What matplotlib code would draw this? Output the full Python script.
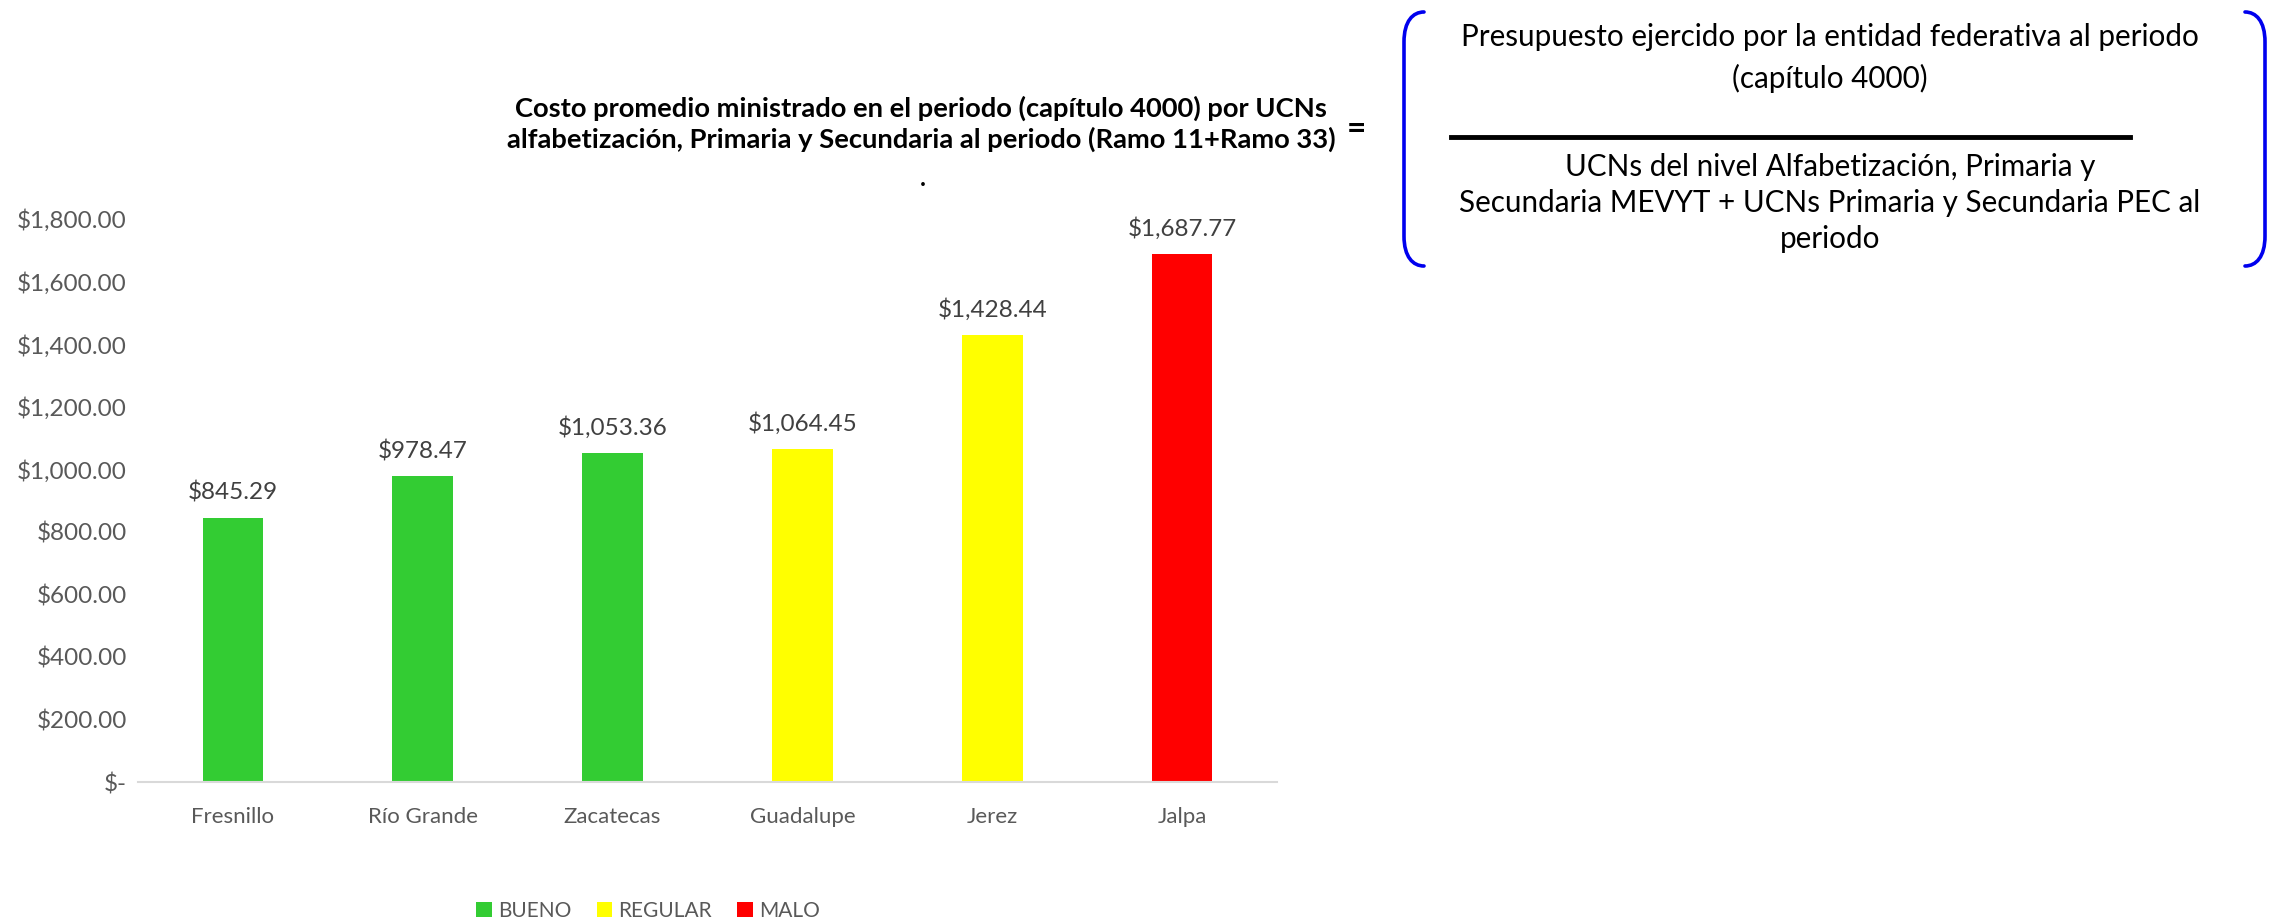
import matplotlib
matplotlib.use("Agg")
import matplotlib.pyplot as plt
from matplotlib.path import Path
from matplotlib.patches import PathPatch, Patch
from matplotlib.ticker import FuncFormatter

categories = ["Fresnillo", "Río Grande", "Zacatecas", "Guadalupe", "Jerez", "Jalpa"]
values = [845.29, 978.47, 1053.36, 1064.45, 1428.44, 1687.77]
ratings = ["BUENO", "BUENO", "BUENO", "REGULAR", "REGULAR", "MALO"]
rating_colors = {"BUENO": "#33CC33", "REGULAR": "#FFFF00", "MALO": "#FF0000"}
yticks = [0, 200, 400, 600, 800, 1000, 1200, 1400, 1600, 1800]

title_text = ("Costo promedio ministrado en el periodo (capítulo 4000) por UCNs\n"
              "alfabetización, Primaria y Secundaria al periodo (Ramo 11+Ramo 33)")
numerator = "Presupuesto ejercido por la entidad federativa al periodo\n(capítulo 4000)"
denominator = ("UCNs del nivel Alfabetización, Primaria y\n"
               "Secundaria MEVYT + UCNs Primaria y Secundaria PEC al\nperiodo")

plt.rcParams['font.family'] = ['Lato', 'DejaVu Sans']
W, H = 2275, 921
fig = plt.figure(figsize=(W / 100, H / 100), dpi=100)
fig.patch.set_facecolor("white")

def fx(x):
    return x / W

def fy(y):
    return 1 - y / H

grey = "#595959"
ax = fig.add_axes([fx(138), fy(782), fx(1277) - fx(138), fy(219) - fy(782)])
x = range(len(categories))
cols = [rating_colors[r] for r in ratings]
bars = ax.bar(x, values, width=0.32, color=cols)
ax.set_xlim(-0.5, len(categories) - 0.5)
ax.set_ylim(0, 1800)
ax.set_yticks(yticks)
ax.yaxis.set_major_formatter(FuncFormatter(lambda v, p: "$-" if v == 0 else f"${v:,.2f}"))
ax.set_xticks(list(x))
ax.set_xticklabels(categories)
ax.tick_params(axis="both", length=0, colors=grey)
ax.tick_params(axis="y", labelsize=17.5, pad=8)
ax.tick_params(axis="x", labelsize=16, pad=18)
for s in ["top", "right", "left"]:
    ax.spines[s].set_visible(False)
ax.spines["bottom"].set_color("#d9d9d9")
ax.spines["bottom"].set_linewidth(1.5)
for b, v in zip(bars, values):
    ax.annotate(f"${v:,.2f}", (b.get_x() + b.get_width() / 2, v), xytext=(0, 10),
                textcoords="offset points", ha="center", va="bottom", fontsize=17.5, color="#404040")

handles = [Patch(facecolor=rating_colors[k], label=k) for k in ["BUENO", "REGULAR", "MALO"]]
fig.legend(handles=handles, loc="center", bbox_to_anchor=(fx(648), fy(911)), ncol=3, frameon=False,
           fontsize=15, labelcolor=grey, handlelength=0.75, handleheight=0.75, handletextpad=0.3,
           columnspacing=1.2)

fig.text(fx(921), fy(124), title_text, ha="center", va="center", fontsize=19.7, fontweight="bold",
         color="black", linespacing=1.25)
fig.text(fx(1356), fy(129), "=", ha="center", va="center", fontsize=24, fontweight="bold")
fig.text(fx(923), fy(178), ".", ha="center", va="center", fontsize=18, fontweight="bold")

fig.text(fx(1830), fy(58), numerator, ha="center", va="center", fontsize=21.3, linespacing=1.55)
fig.text(fx(1830), fy(203), denominator, ha="center", va="center", fontsize=21.3, linespacing=1.35)
fig.add_artist(plt.Line2D([fx(1451), fx(2130)], [fy(137), fy(137)], color="black", lw=3.5,
                          transform=fig.transFigure))

codes = [Path.MOVETO, Path.CURVE4, Path.CURVE4, Path.CURVE4, Path.LINETO,
         Path.CURVE4, Path.CURVE4, Path.CURVE4]
verts_l = [(fx(1424), fy(12)),
           (fx(1413), fy(12)), (fx(1404), fy(21)), (fx(1404), fy(42)),
           (fx(1404), fy(236)),
           (fx(1404), fy(257)), (fx(1413), fy(266)), (fx(1424), fy(266))]
verts_r = [(fx(2245), fy(12)),
           (fx(2256), fy(12)), (fx(2265), fy(21)), (fx(2265), fy(42)),
           (fx(2265), fy(236)),
           (fx(2265), fy(257)), (fx(2256), fy(266)), (fx(2245), fy(266))]
for verts in (verts_l, verts_r):
    fig.add_artist(PathPatch(Path(verts, codes), transform=fig.transFigure, fill=False,
                             edgecolor="#0000EE", lw=2.6, capstyle="round"))

fig.savefig("out.png", dpi=100, facecolor="white")
